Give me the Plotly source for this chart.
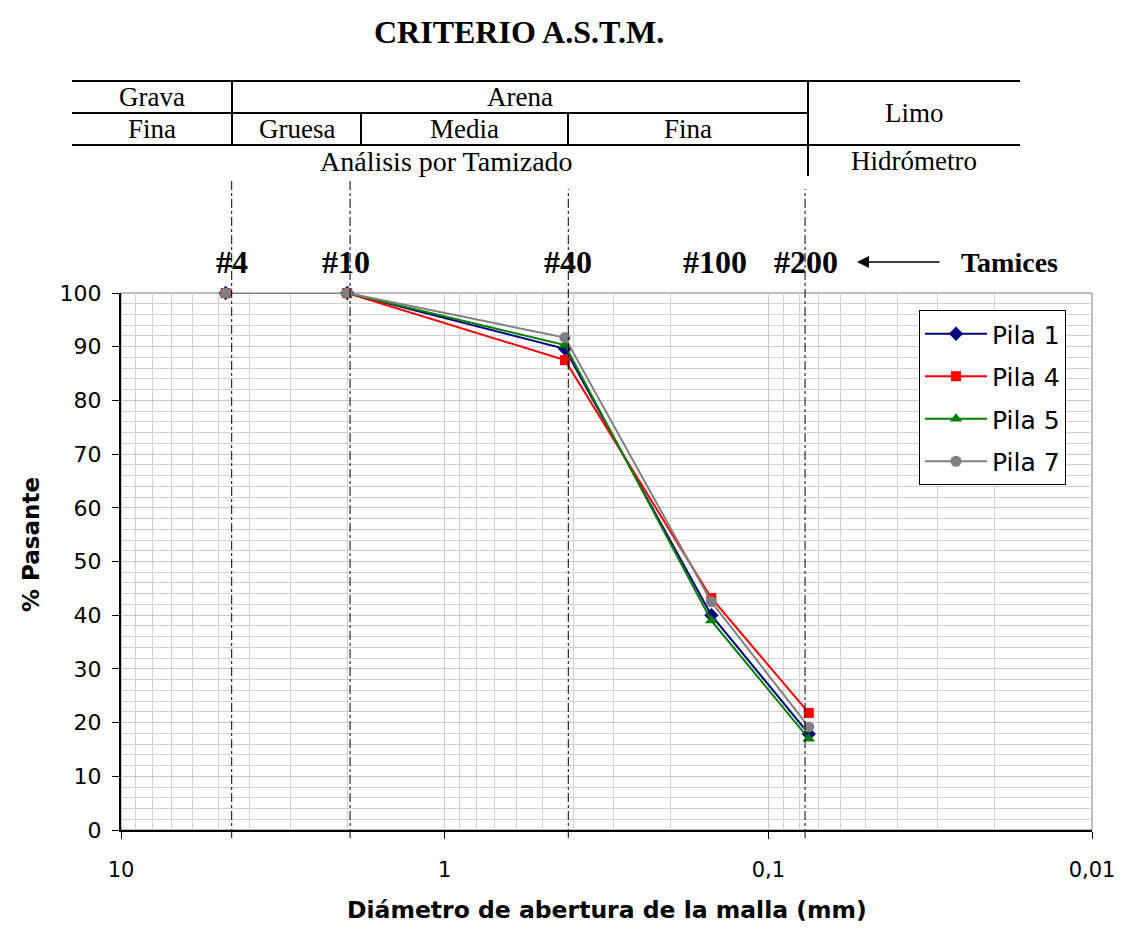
import plotly.graph_objects as go

# ---------------- data ----------------
sieve_names = ["#4", "#10", "#40", "#100", "#200"]
sieve_mm = [4.75, 2.0, 0.425, 0.15, 0.075]
guide_line_mm = [4.55, 1.96, 0.415, 0.077]

pila1 = [100, 100, 89.6, 40.0, 17.9]
pila4 = [100, 100, 87.5, 43.2, 21.8]
pila5 = [100, 100, 90.3, 39.0, 17.0]
pila7 = [100, 100, 91.7, 42.5, 19.2]

series_names = ["Pila 1", "Pila 4", "Pila 5", "Pila 7"]
series_values = [pila1, pila4, pila5, pila7]
series_colors = ["#000080", "#FF0000", "#008000", "#808080"]
series_symbols = ["diamond", "square", "triangle-up", "circle"]
series_sizes = [11, 10, 11, 11]

x_tickvals = [10, 1, 0.1, 0.01]
x_ticktext = ["10", "1", "0,1", "0,01"]
y_tickvals = list(range(0, 101, 10))

# ---------------- layout geometry ----------------
OFF = 8  # page body margin
W, H = 1127 - 2 * OFF, 934 - 2 * OFF
RL, RR, RT, RB = 121, 1092, 293, 830


def px(x):
    return (x - RL) / (RR - RL)


def py(y):
    return (RB - y) / (RB - RT)


SERIF = "Liberation Serif, Times New Roman, serif"
SANS = "DejaVu Sans, Arial, sans-serif"

fig = go.Figure()

for name, vals, col, sym, sz in zip(series_names, series_values, series_colors,
                                    series_symbols, series_sizes):
    fig.add_trace(go.Scatter(
        x=sieve_mm, y=vals, name=name, mode="lines+markers",
        line=dict(color=col, width=2),
        marker=dict(color=col, symbol=sym, size=sz, line=dict(width=0)),
        legendgroup=name, cliponaxis=False,
    ))

minor_vals = []
for dec in [0.01, 0.1, 1]:
    for k in range(2, 10):
        minor_vals.append(round(k * dec, 6))
minor_vals += [0.1, 1]

shapes = []
shapes.append(dict(type="rect", xref="paper", yref="paper", x0=0, x1=1, y0=0, y1=1,
                   line=dict(color="#808080", width=1), layer="below"))
for i, g in enumerate(guide_line_mm):
    top = 180 if i < 2 else 189
    shapes.append(dict(type="line", xref="x", yref="paper", x0=g, x1=g,
                       y0=py(838), y1=py(top),
                       line=dict(color="black", width=1, dash="dashdot")))


def hline(x0, x1, y):
    shapes.append(dict(type="line", xref="paper", yref="paper", x0=px(x0), x1=px(x1),
                       y0=py(y), y1=py(y), line=dict(color="black", width=2)))


def vline(x, y0, y1):
    shapes.append(dict(type="line", xref="paper", yref="paper", x0=px(x), x1=px(x),
                       y0=py(y0), y1=py(y1), line=dict(color="black", width=2)))


hline(72, 1020, 81)
hline(72, 808, 113)
hline(72, 1020, 145)
vline(232, 81, 145)
vline(361, 113, 145)
vline(568, 113, 145)
vline(808, 81, 176)

annotations = []


def txt(x, y, s, size=27, font=SERIF, bold=False, **kw):
    if bold:
        s = "<b>" + s + "</b>"
    annotations.append(dict(xref="paper", yref="paper", x=px(x), y=py(y), text=s,
                            showarrow=False, xanchor="center", yanchor="middle",
                            font=dict(family=font, size=size, color="black"), **kw))


txt(152, 97, "Grava")
txt(520, 97, "Arena")
txt(914, 113, "Limo")
txt(152, 129, "Fina")
txt(297, 129, "Gruesa")
txt(464, 129, "Media")
txt(688, 129, "Fina")
txt(446, 161, "Análisis por Tamizado", size=28)
txt(914, 161, "Hidrómetro")

txt(519, 32, "CRITERIO A.S.T.M.", size=32, bold=True)

label_px = [232, 346, 568, 715, 806]
for name, xx in zip(sieve_names, label_px):
    txt(xx, 262, name, size=32, bold=True)
txt(1009, 262, "Tamices", size=28, bold=True)

annotations.append(dict(xref="paper", yref="paper", x=px(857), y=py(262),
                        ax=84, ay=0, axref="pixel", ayref="pixel",
                        text="", showarrow=True, arrowhead=2, arrowsize=1.5,
                        arrowwidth=1.6, arrowcolor="black"))

txt(31, 545, "% Pasante", size=23, font=SANS, bold=True, textangle=-90)
txt(607, 910, "Diámetro de abertura de la malla (mm)", size=23.5, font=SANS, bold=True)

fig.update_layout(
    width=W, height=H,
    margin=dict(l=RL - OFF, r=W - (RR - OFF), t=RT - OFF, b=H - (RB - OFF), pad=0,
                autoexpand=False),
    paper_bgcolor="white", plot_bgcolor="white",
    showlegend=True,
    legend=dict(x=px(919), y=py(310), xanchor="left", yanchor="top",
                bordercolor="black", borderwidth=1, bgcolor="white",
                font=dict(family=SANS, size=25, color="black"),
                traceorder="grouped", tracegroupgap=7,
                itemwidth=62),
    shapes=shapes,
    annotations=annotations,
    font=dict(family=SANS, color="black"),
)

fig.update_xaxes(
    type="log", range=[1, -2], autorange=False, automargin=False,
    tickvals=x_tickvals, ticktext=x_ticktext,
    tickfont=dict(family=SANS, size=21, color="black"),
    ticks="outside", ticklen=7, tickcolor="black", tickwidth=1,
    ticklabelstandoff=13,
    showline=True, linecolor="black", linewidth=2,
    showgrid=True, gridcolor="#c8c8c8", gridwidth=1,
    minor=dict(tickvals=minor_vals, showgrid=True, gridcolor="#d0d0d0", ticks=""),
    zeroline=False, mirror=False,
)

fig.update_yaxes(
    range=[0, 100], autorange=False, automargin=False,
    tickvals=y_tickvals,
    tickfont=dict(family=SANS, size=22, color="black"),
    ticks="outside", ticklen=7, tickcolor="black", tickwidth=1,
    ticklabelstandoff=6,
    showline=True, linecolor="black", linewidth=2,
    showgrid=True, gridcolor="#c8c8c8", gridwidth=1,
    minor=dict(dtick=2, showgrid=True, gridcolor="#d0d0d0", ticks=""),
    zeroline=False,
)

fig.write_html("out.html")
